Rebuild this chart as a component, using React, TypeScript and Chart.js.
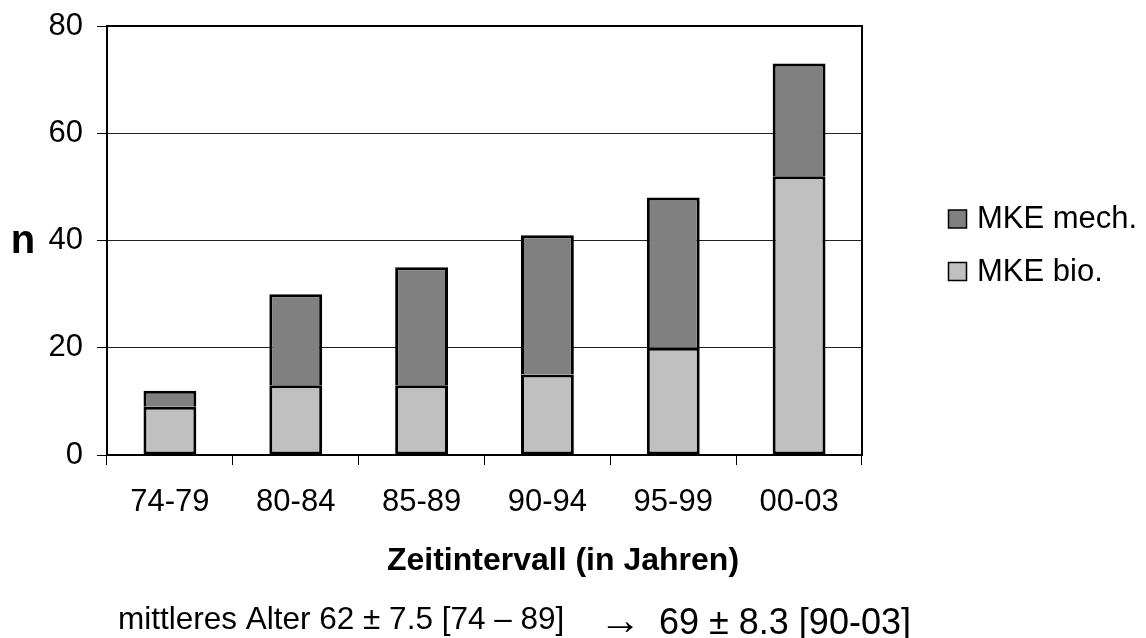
import React, { useEffect, useRef } from 'react';
import { Chart, registerables } from 'chart.js';

Chart.register(...registerables);

// ---- Data ----
const categories = ['74-79', '80-84', '85-89', '90-94', '95-99', '00-03'];
const mkeBio = [9, 13, 13, 15, 20, 52];
const mkeMech = [3, 17, 22, 26, 28, 21];
const seriesNames = ['MKE mech.', 'MKE bio.'];
const yMin = 0;
const yMax = 80;
const yStep = 20;
const yAxisTitle = 'n';
const xAxisTitle = 'Zeitintervall (in Jahren)';
const footerLeft = 'mittleres Alter 62 ± 7.5 [74 – 89]';
const footerArrow = '→';
const footerRight = '69 ± 8.3 [90-03]';

// ---- Style ----
const FONT = "Arial, 'Liberation Sans', sans-serif";
const mechColor = '#808080';
const bioColor = '#C0C0C0';
const W = 1146;
const H = 638;

const overlayPlugin = {
  id: 'overlay',
  afterDraw(chart: any) {
    const { ctx, chartArea: a } = chart;
    ctx.save();
    // plot frame
    ctx.strokeStyle = '#000';
    ctx.lineWidth = 2;
    ctx.strokeRect(a.left, a.top, a.right - a.left, a.bottom - a.top);

    ctx.fillStyle = '#000';
    ctx.textBaseline = 'alphabetic';

    // y axis title
    ctx.font = `bold 40px ${FONT}`;
    ctx.textAlign = 'center';
    ctx.fillText(yAxisTitle, 23, (a.top + a.bottom) / 2 + 12.5);

    // x axis title
    ctx.font = `bold 32px ${FONT}`;
    ctx.textAlign = 'center';
    ctx.fillText(xAxisTitle, 563, 570);

    // footer
    ctx.textAlign = 'left';
    ctx.font = `31.5px ${FONT}`;
    ctx.fillText(footerLeft, 118, 629);
    ctx.font = `42px ${FONT}`;
    ctx.fillText(footerArrow, 599, 634);
    ctx.font = `36px ${FONT}`;
    ctx.fillText(footerRight, 659, 634);

    // legend
    const items = [
      { label: seriesNames[0], color: mechColor, y: 219 },
      { label: seriesNames[1], color: bioColor, y: 271.5 },
    ];
    ctx.font = `31px ${FONT}`;
    for (const it of items) {
      ctx.fillStyle = it.color;
      ctx.fillRect(948.5, it.y - 9, 18, 18);
      ctx.strokeStyle = '#000';
      ctx.lineWidth = 1.5;
      ctx.strokeRect(948.5, it.y - 9, 18, 18);
      ctx.fillStyle = '#000';
      ctx.fillText(it.label, 977, it.y + 9);
    }
    ctx.restore();
  },
};

export default function App() {
  const ref = useRef<HTMLCanvasElement | null>(null);

  useEffect(() => {
    document.body.style.margin = '0';
    const canvas = ref.current;
    if (!canvas) return;
    const chart = new Chart(canvas, {
      type: 'bar',
      data: {
        labels: categories,
        datasets: [
          {
            label: seriesNames[1],
            data: mkeBio,
            backgroundColor: bioColor,
            borderColor: '#000',
            borderWidth: 3,
            borderSkipped: false,
            barPercentage: 0.42,
            categoryPercentage: 1,
          },
          {
            label: seriesNames[0],
            data: mkeMech,
            backgroundColor: mechColor,
            borderColor: '#000',
            borderWidth: 3,
            borderSkipped: 'bottom',
            barPercentage: 0.42,
            categoryPercentage: 1,
          },
        ],
      },
      options: {
        responsive: false,
        animation: false,
        layout: { padding: { top: 26, right: W - 862, left: 0, bottom: 0 } },
        plugins: {
          legend: { display: false },
          tooltip: { enabled: false },
          title: { display: false },
        },
        scales: {
          x: {
            stacked: true,
            afterFit: (s: any) => {
              s.height = H - 455;
              s.paddingLeft = 0;
              s.paddingRight = 0;
            },
            grid: {
              offset: true,
              drawOnChartArea: false,
              drawTicks: true,
              tickLength: 10,
              color: '#000',
              tickColor: '#000',
              lineWidth: 1,
            },
            border: { display: true, color: '#000', width: 2 },
            ticks: {
              color: '#000',
              font: { family: FONT, size: 31 },
              padding: 19,
              maxRotation: 0,
              autoSkip: false,
            },
          },
          y: {
            stacked: true,
            min: yMin,
            max: yMax,
            afterFit: (s: any) => {
              s.width = 107;
              s.paddingTop = 0;
              s.paddingBottom = 0;
            },
            grid: {
              color: '#222',
              tickColor: '#000',
              lineWidth: 1,
              drawTicks: true,
              tickLength: 10,
            },
            border: { display: true, color: '#000', width: 2 },
            ticks: {
              stepSize: yStep,
              color: '#000',
              font: { family: FONT, size: 31 },
              padding: 14,
            },
          },
        },
      },
      plugins: [overlayPlugin],
    });
    return () => chart.destroy();
  }, []);

  return (
    <div style={{ position: 'absolute', left: 0, top: 0, width: W, height: H, background: '#fff' }}>
      <canvas ref={ref} width={W} height={H} style={{ display: 'block' }} />
    </div>
  );
}
